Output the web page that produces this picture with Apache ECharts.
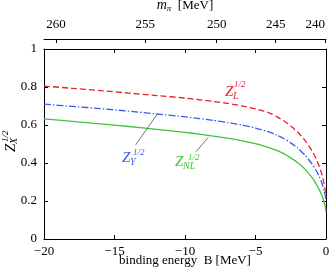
<!DOCTYPE html>
<html>
<head>
<meta charset="utf-8">
<script src="https://cdn.jsdelivr.net/npm/echarts@6/dist/echarts.min.js"></script>
<style>
html,body{margin:0;padding:0;background:#fff;}
#chart{width:332px;height:275px;}
</style>
</head>
<body>
<div id="chart"></div>
<script>
// binding energy B [MeV]
const energyB = [-20, -18, -16, -14, -12, -10, -9, -8, -7, -6, -5, -4, -3.5, -3, -2.5, -2, -1.5, -1, -0.75, -0.5, -0.3, -0.15, -0.05, 0];
const zL  = [0.805, 0.793, 0.781, 0.768, 0.755, 0.742, 0.733, 0.724, 0.714, 0.701, 0.685, 0.663, 0.644, 0.622, 0.595, 0.562, 0.52, 0.465, 0.43, 0.387, 0.342, 0.295, 0.255, 0.22];
const zY  = [0.71, 0.698, 0.686, 0.673, 0.658, 0.643, 0.634, 0.624, 0.613, 0.6, 0.584, 0.562, 0.547, 0.529, 0.506, 0.478, 0.442, 0.396, 0.367, 0.332, 0.295, 0.258, 0.225, 0.2];
const zNL = [0.632, 0.619, 0.606, 0.592, 0.577, 0.561, 0.552, 0.542, 0.531, 0.518, 0.502, 0.48, 0.466, 0.449, 0.427, 0.401, 0.368, 0.324, 0.297, 0.263, 0.23, 0.2, 0.172, 0.14];
// top axis: pion mass tick labels and their positions on the B scale
const mpiTicks = [260, 255, 250, 245, 240];
const mpiTickB = [-19.15, -12.82, -7.75, -3.57, -0.07];
const xTicks = [-20, -15, -10, -5, 0];
const yTicks = [0, 0.2, 0.4, 0.6, 0.8, 1];

const FONT = 'Liberation Serif';
const RED = '#e8202a', BLUE = '#3a5cf0', GREEN = '#3fc43a';

function pairs(ys){ return energyB.map((b,i)=>[b, ys[i]]); }

const chart = echarts.init(document.getElementById('chart'), null, {renderer:'canvas'});

function lbl(x, y, parts, color){
  return parts.map(p => ({
    type:'text', x: x + p[1], y: y + p[2], silent:true,
    style:{text:p[0], font:(p[4]||'italic ') + p[3] + 'px "' + FONT + '"', fill:color,
           textAlign:'left', textVerticalAlign:'middle', align:'left', verticalAlign:'middle'}
  }));
}

const option = {
  animation:false,
  backgroundColor:'#fff',
  grid:{left:44, right:6, top:49, bottom:36, containLabel:false, outerBoundsMode:'none'},
  xAxis:[
    {
      type:'value', position:'bottom', min:-20, max:0, interval:5,
      axisLine:{show:true, onZero:false, lineStyle:{color:'#000', width:1}},
      axisTick:{show:true, inside:true, length:4, lineStyle:{color:'#000'}},
      splitLine:{show:false},
      axisLabel:{color:'#000', fontFamily:FONT, fontSize:13, margin:6,
        formatter:v => String(v).replace('-', '\u2212')},
      name:'binding energy  B [MeV]', nameLocation:'middle', nameGap:15, nameMoveOverlap:false,
      nameTextStyle:{color:'#000', fontFamily:FONT, fontSize:13}
    },
    {
      type:'value', position:'top', offset:10, min:-20, max:0,
      axisLine:{show:true, onZero:false, lineStyle:{color:'#000', width:1}},
      axisTick:{show:true, inside:true, length:4, customValues:mpiTickB, lineStyle:{color:'#000'}},
      splitLine:{show:false},
      axisLabel:{show:true, color:'#000', fontFamily:FONT, fontSize:13, margin:8,
        customValues:mpiTickB, alignMaxLabel:'right',
        formatter:v => { const i = mpiTickB.findIndex(b => Math.abs(b - v) < 1e-6); return i >= 0 ? String(mpiTicks[i]) : ''; }},
      name:'{m|m}{s|\u03c0}  {t|[MeV]}', nameLocation:'middle', nameGap:26,
      nameTextStyle:{color:'#000', fontFamily:FONT, fontSize:13,
        rich:{
          m:{fontFamily:FONT, fontStyle:'italic', fontSize:14, color:'#000'},
          s:{fontFamily:FONT, fontStyle:'italic', fontSize:9, color:'#000', padding:[6,0,0,0]},
          t:{fontFamily:FONT, fontSize:13, color:'#000'}
        }}
    },
    {
      type:'value', position:'top', offset:0, min:-20, max:0, interval:5,
      axisLine:{show:true, onZero:false, lineStyle:{color:'#000', width:1}},
      axisTick:{show:true, inside:true, length:4, lineStyle:{color:'#000'}},
      axisLabel:{show:false}, splitLine:{show:false}
    }
  ],
  yAxis:[
    {
      type:'value', position:'left', min:0, max:1, interval:0.2,
      axisLine:{show:true, onZero:false, lineStyle:{color:'#000', width:1}},
      axisTick:{show:true, inside:true, length:4, lineStyle:{color:'#000'}},
      splitLine:{show:false},
      axisLabel:{color:'#000', fontFamily:FONT, fontSize:13, margin:7,
        customValues:yTicks, formatter:v => String(Math.round(v*10)/10)}
    },
    {
      type:'value', position:'right', min:0, max:1, interval:0.2,
      axisLine:{show:true, onZero:false, lineStyle:{color:'#000', width:1}},
      axisTick:{show:true, inside:true, length:4, lineStyle:{color:'#000'}},
      axisLabel:{show:false}, splitLine:{show:false}
    }
  ],
  series:[
    {
      name:'ZL', type:'line', xAxisIndex:0, yAxisIndex:0, data:pairs(zL),
      showSymbol:false, symbol:'none', smooth:0.2,
      lineStyle:{color:RED, width:1.3, type:[6,3]}
    },
    {
      name:'ZY', type:'line', xAxisIndex:0, yAxisIndex:0, data:pairs(zY),
      showSymbol:false, symbol:'none', smooth:0.2,
      lineStyle:{color:BLUE, width:1.3, type:[7,2,1.5,2]}
    },
    {
      name:'ZNL', type:'line', xAxisIndex:0, yAxisIndex:0, data:pairs(zNL),
      showSymbol:false, symbol:'none', smooth:0.2,
      lineStyle:{color:GREEN, width:1.3},
      markLine:{
        silent:true, symbol:['none','none'], label:{show:false},
        lineStyle:{color:'#555', width:0.8, type:'solid'},
        data:[
          [{coord:[-13.5, 0.495]}, {coord:[-11.96, 0.658]}],
          [{coord:[-9.22, 0.459]}, {coord:[-8.35, 0.535]}]
        ]
      }
    }
  ],
  graphic:[
    ...lbl(225, 92, [['Z',0,0,15],['L',8,4,10],['1/2',9,-7,9,'']], RED),
    ...lbl(122, 158, [['Z',0,0,15],['Y',8,4,10],['1/2',11,-5,9,'']], BLUE),
    ...lbl(175, 162.5, [['Z',0,0,15],['NL',8,4,10],['1/2',13,-5,9,'']], GREEN),
    {
      type:'group', x:11, y:152, rotation:Math.PI/2, silent:true,
      children: lbl(0, 0, [['Z',0,0,15],['X',8,3,10],['1/2',10,-5,9,'']], '#000')
    }
  ]
};
chart.setOption(option);
</script>
</body>
</html>
